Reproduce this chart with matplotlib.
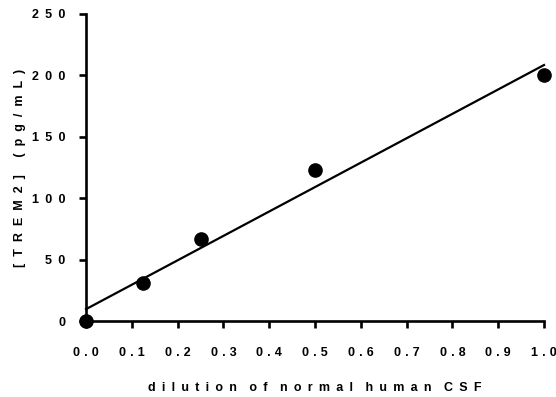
import numpy as np
import matplotlib
matplotlib.use("Agg")
import matplotlib.pyplot as plt

dilution = [0.0, 0.125, 0.25, 0.5, 1.0]
trem2 = [0.0, 31.0, 67.0, 123.0, 200.0]
xticks = [0.0, 0.1, 0.2, 0.3, 0.4, 0.5, 0.6, 0.7, 0.8, 0.9, 1.0]
yticks = [0, 50, 100, 150, 200, 250]
xlabel = "dilution of normal human CSF"
ylabel = "[TREM2] (pg/mL)"

EN = "\u2002"
def spaced(s, sep=EN):
    return sep.join(list(s))

def spaced_words(s, sep=EN, wsep=EN + EN):
    return wsep.join(sep.join(list(w)) for w in s.split(" "))

plt.rcParams['font.family'] = ['Liberation Sans', 'DejaVu Sans']
plt.rcParams['font.weight'] = 'bold'

fig = plt.figure(figsize=(5.56, 3.97), dpi=100)
ax = fig.add_axes([86/556, 1-321/397, (544-86)/556, (321-14)/397])

slope, intercept = np.polyfit(dilution, trem2, 1)
xf = np.array([0.0, 1.0])
ax.plot(xf, slope*xf + intercept, color='black', lw=1.6, clip_on=False)
ax.plot(dilution, trem2, 'o', color='black', ms=9.5, clip_on=False, zorder=5)

ax.set_xlim(0, 1.0)
ax.set_ylim(0, 250)
ax.set_xticks(xticks)
ax.set_xticklabels([spaced(f"{v:.1f}", "\u2004") for v in xticks], fontsize=9, fontweight='bold')
ax.set_yticks(yticks)
ax.set_yticklabels([spaced(str(v)) for v in yticks], fontsize=9, fontweight='bold')
for s in ['top', 'right']:
    ax.spines[s].set_visible(False)
for s in ['left', 'bottom']:
    ax.spines[s].set_linewidth(1.9)
ax.tick_params(axis='both', direction='out', length=5, width=1.9, color='black')
ax.tick_params(axis='x', pad=14)
ax.tick_params(axis='y', pad=10)

ax.set_xlabel(spaced_words(xlabel), fontsize=9, fontweight='bold', labelpad=16)
ax.set_ylabel(spaced(ylabel, "  "), fontsize=9, fontweight='bold', labelpad=4)

fig.savefig("out.png", dpi=100)
